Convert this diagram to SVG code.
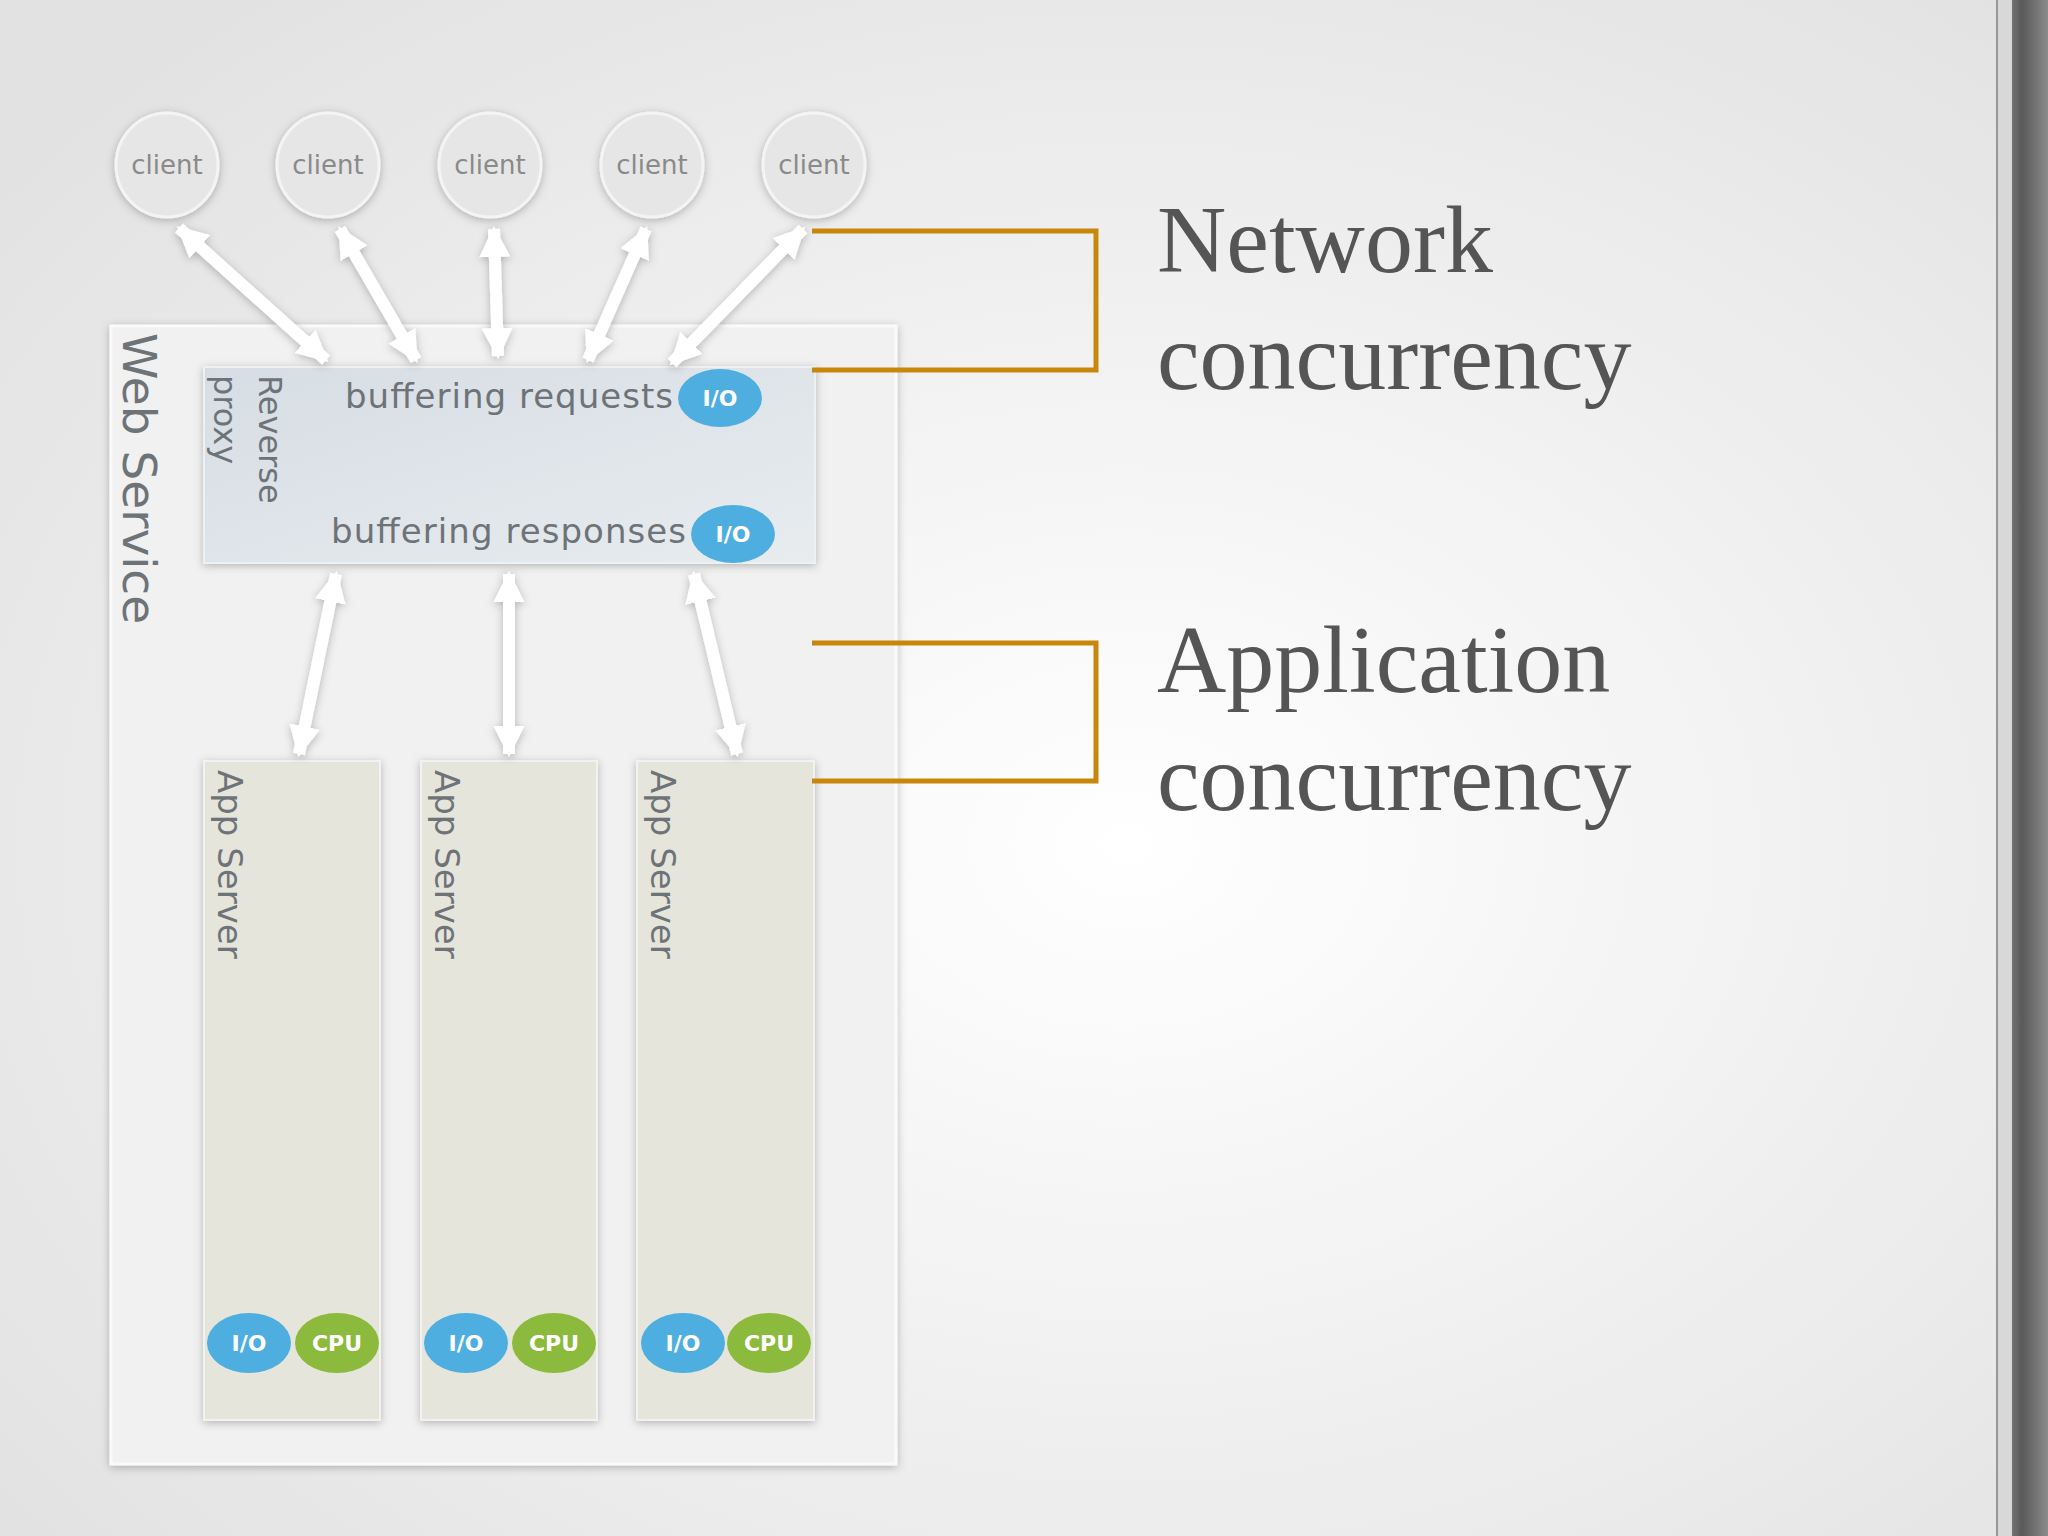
<svg xmlns="http://www.w3.org/2000/svg" width="2048" height="1536" viewBox="0 0 2048 1536">
<defs>
<radialGradient id="bg" cx="0.55" cy="0.55" r="0.7"><stop offset="0" stop-color="#ffffff"/><stop offset="1" stop-color="#e2e2e2"/></radialGradient>
<linearGradient id="px" x1="0" y1="0" x2="1" y2="1"><stop offset="0" stop-color="#d6dde4"/><stop offset="1" stop-color="#e8ecef"/></linearGradient>
<linearGradient id="edge" x1="0" y1="0" x2="1" y2="0"><stop offset="0" stop-color="#9a9a9a"/><stop offset="0.5" stop-color="#5a5a5a"/><stop offset="1" stop-color="#8a8a8a"/></linearGradient>
<filter id="sh" x="-20%" y="-20%" width="140%" height="140%"><feDropShadow dx="0" dy="2" stdDeviation="4" flood-color="#000" flood-opacity="0.25"/></filter>
<marker id="ah" viewBox="0 0 10 10" refX="9" refY="5" markerWidth="2.6" markerHeight="2.6" orient="auto-start-reverse" markerUnits="strokeWidth"><path d="M0,0 L10,5 L0,10 z" fill="#fff"/></marker>
<style>
.cl{fill:#e6e6e6;stroke:#f4f4f4;stroke-width:3;filter:url(#sh)}
.ct{font-family:"DejaVu Sans",sans-serif;font-size:26px;fill:#8a8a8a;text-anchor:middle}
.lbl{font-family:"DejaVu Sans",sans-serif;fill:#6e7378}
.app{fill:#e6e5dc;stroke:#f2f2f2;stroke-width:2;filter:url(#sh)}
.io{fill:#4daedf}
.cpu{fill:#8cba3c}
.bt{font-family:"DejaVu Sans",sans-serif;font-weight:bold;font-size:22px;fill:#fff;text-anchor:middle}
.ar{stroke:#fff;stroke-width:12;fill:none;marker-start:url(#ah);marker-end:url(#ah)}
.br{stroke:#c8860a;stroke-width:5;fill:none}
.big{font-family:"Liberation Serif",serif;font-size:96px;fill:#555}
</style>
</defs>
<rect width="2048" height="1536" fill="url(#bg)"/>
<rect x="1996" y="0" width="52" height="1536" fill="url(#edge)"/>
<rect x="1998" y="0" width="14" height="1536" fill="#d8d8d8"/>
<g id="webservice">
<rect x="111" y="326" width="785" height="1138" fill="#f1f1f1" stroke="#fafafa" stroke-width="3" filter="url(#sh)"/>
<text class="lbl" font-size="47" transform="translate(123,333) rotate(90)">Web Service</text>
</g>
<g id="proxy">
<rect x="204" y="367" width="611" height="196" fill="url(#px)" stroke="#eef1f3" stroke-width="2" filter="url(#sh)"/>
<text class="lbl" font-size="32" transform="translate(259,375) rotate(90)">Reverse</text>
<text class="lbl" font-size="32" transform="translate(214,375) rotate(90)">proxy</text>
<text class="lbl" font-size="34" x="673" y="408" text-anchor="end" textLength="328">buffering requests</text>
<ellipse class="io" cx="720" cy="398" rx="42" ry="29"/><text class="bt" x="720" y="406">I/O</text>
<text class="lbl" font-size="34" x="686" y="543" text-anchor="end" textLength="355">buffering responses</text>
<ellipse class="io" cx="733" cy="534" rx="42" ry="29"/><text class="bt" x="733" y="542">I/O</text>
</g>
<g id="clients">
<g id="client1"><ellipse class="cl" cx="167" cy="165" rx="51" ry="52"/><text class="ct" x="167" y="174">client</text></g>
<g id="client2"><ellipse class="cl" cx="328" cy="165" rx="51" ry="52"/><text class="ct" x="328" y="174">client</text></g>
<g id="client3"><ellipse class="cl" cx="490" cy="165" rx="51" ry="52"/><text class="ct" x="490" y="174">client</text></g>
<g id="client4"><ellipse class="cl" cx="652" cy="165" rx="51" ry="52"/><text class="ct" x="652" y="174">client</text></g>
<g id="client5"><ellipse class="cl" cx="814" cy="165" rx="51" ry="52"/><text class="ct" x="814" y="174">client</text></g>
</g>
<g id="appservers">
<g id="app1"><rect class="app" x="204" y="761" width="176" height="659"/><text class="lbl" font-size="34" transform="translate(218,770) rotate(90)">App Server</text>
<ellipse class="io" cx="249" cy="1343" rx="42" ry="30"/><text class="bt" x="249" y="1351">I/O</text>
<ellipse class="cpu" cx="337" cy="1343" rx="42" ry="30"/><text class="bt" x="337" y="1351">CPU</text></g>
<g id="app2"><rect class="app" x="421" y="761" width="176" height="659"/><text class="lbl" font-size="34" transform="translate(435,770) rotate(90)">App Server</text>
<ellipse class="io" cx="466" cy="1343" rx="42" ry="30"/><text class="bt" x="466" y="1351">I/O</text>
<ellipse class="cpu" cx="554" cy="1343" rx="42" ry="30"/><text class="bt" x="554" y="1351">CPU</text></g>
<g id="app3"><rect class="app" x="637" y="761" width="177" height="659"/><text class="lbl" font-size="34" transform="translate(651,770) rotate(90)">App Server</text>
<ellipse class="io" cx="683" cy="1343" rx="42" ry="30"/><text class="bt" x="683" y="1351">I/O</text>
<ellipse class="cpu" cx="769" cy="1343" rx="42" ry="30"/><text class="bt" x="769" y="1351">CPU</text></g>
</g>
<g id="connectors" filter="url(#sh)">
<line class="ar" x1="179" y1="228" x2="326" y2="360"/>
<line class="ar" x1="340" y1="229" x2="416" y2="360"/>
<line class="ar" x1="494" y1="229" x2="498" y2="356"/>
<line class="ar" x1="646" y1="229" x2="588" y2="360"/>
<line class="ar" x1="803" y1="229" x2="672" y2="363"/>
<line class="ar" x1="336" y1="574" x2="299" y2="754"/>
<line class="ar" x1="509" y1="574" x2="509" y2="754"/>
<line class="ar" x1="694" y1="574" x2="737" y2="754"/>
</g>
<g id="brackets">
<polyline class="br" points="812,231 1096,231 1096,370 812,370"/>
<polyline class="br" points="812,643 1096,643 1096,781 812,781"/>
</g>
<g id="labels">
<text class="big" x="1157" y="272">Network</text>
<text class="big" x="1157" y="389">concurrency</text>
<text class="big" x="1157" y="692">Application</text>
<text class="big" x="1157" y="810">concurrency</text>
</g>
</svg>
